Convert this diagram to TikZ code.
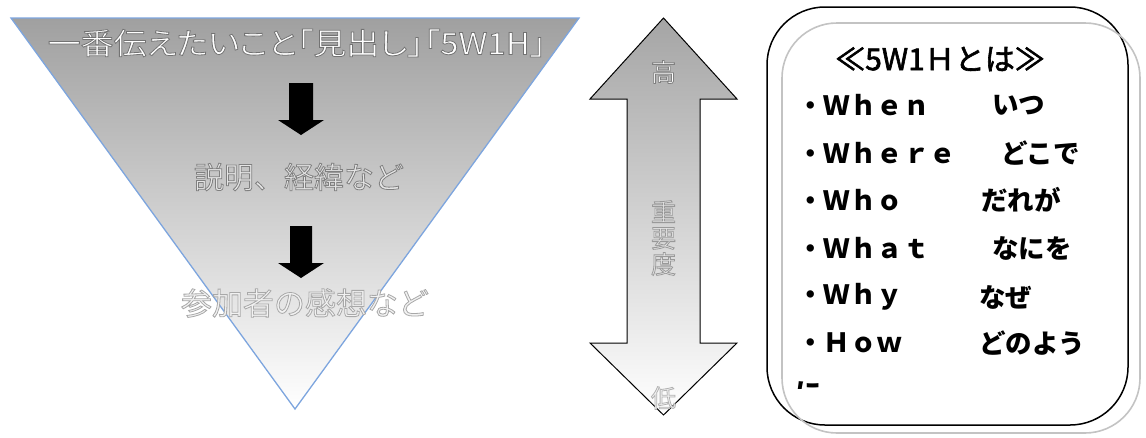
\documentclass[tikz,border=0pt]{standalone}
\usepackage{fontspec}
\newfontfamily\jp{Noto Sans CJK JP}
\newfontfamily\jpp{Noto Sans CJK JP}[RawFeature=+palt, FakeStretch=1.1]
\definecolor{tritop}{RGB}{160,160,160}
\definecolor{triedge}{RGB}{125,165,222}
\definecolor{boxgray}{RGB}{195,195,195}
\definecolor{arrtop}{RGB}{165,165,165}
\newcommand\outl[2]{\special{pdf:literal direct 2 Tr 0.8 w #1 RG}#2\special{pdf:literal direct 0 Tr}}
\newcommand\thick[1]{\special{pdf:literal direct 2 Tr 0.6 w 0 0 0 RG}#1\special{pdf:literal direct 0 Tr}}
\tikzset{
  lt/.style={inner sep=0pt, font=\jp\fontsize{#1}{#1}\selectfont},
  ltp/.style={inner sep=0pt, font=\jpp\fontsize{#1}{#1}\selectfont},
  item/.style={anchor=west, inner sep=0pt, font=\jp\bfseries\fontsize{26.5}{26.5}\selectfont},
  blockarrow/.style={fill=black},
  vline/.style={inner sep=0pt, align=center, font=\jp\fontsize{25}{26}\selectfont}
}
\begin{document}
\begin{tikzpicture}[x=1pt,y=-1pt]
\useasboundingbox (0,0) rectangle (1146,437);
% inverted triangle
\path[shade, top color=tritop, bottom color=white, draw=triedge, line width=1.3pt]
  (11,18) coordinate (tl) -- (579,18) coordinate (tr) -- (295,409) coordinate (ap) -- cycle;
% black block arrows
\fill[blockarrow] (289,83) -- (313,83) -- (313,120) -- (324,120) -- (301,135) -- (278,120) -- (289,120) -- cycle;
\fill[blockarrow] (290,226) -- (312,226) -- (312,263) -- (324,263) -- (301,278) -- (278,263) -- (290,263) -- cycle;
% texts in triangle
\node[ltp=30, text=white] (t1) at (297,43) {\outl{0.45 0.45 0.45}{一番伝えたいこと「見出し」「5W1H」}};
\node[lt=30, text=black!10] (t2) at (299,177) {\outl{0.5 0.5 0.5}{説明、経緯など}};
\node[lt=31, text=black!5] (t3) at (305,303) {\outl{0.66 0.66 0.66}{参加者の感想など}};
% double arrow
\path[shade, top color=arrtop, bottom color=white, draw=black, line width=1pt]
  (663.5,18) -- (737,99) -- (700,99) -- (700,343) -- (737,343) -- (663.5,415)
  -- (590,343) -- (627,343) -- (627,99) -- (590,99) -- cycle;
\node[lt=25, text=white] (hi) at (663.5,72) {\outl{0.5 0.5 0.5}{高}};
\node[vline, text=black!10] (imp) at (663.5,238) {\outl{0.6 0.6 0.6}{重}\\\outl{0.6 0.6 0.6}{要}\\\outl{0.6 0.6 0.6}{度}};
\node[lt=25, text=black!5] (lo) at (663.5,398) {\outl{0.7 0.7 0.7}{低}};
% right box
\draw[black, line width=1.5pt, rounded corners=58pt] (767,7) rectangle (1128,425);
\draw[boxgray, line width=1.6pt, rounded corners=55pt] (782,23) rectangle (1140,433);
\node[lt=30] (title) at (940,59) {\thick{≪5W1Ｈとは≫}};
\node[item] (a1) at (797,105) {・Ｗｈｅｎ};
\node[item] (b1) at (992,105) {いつ};
\node[item] (a2) at (797,153) {・Ｗｈｅｒｅ};
\node[item] (b2) at (1001,153) {どこで};
\node[item] (a3) at (797,200) {・Ｗｈｏ};
\node[item] (b3) at (981,200) {だれが};
\node[item] (a4) at (797,248) {・Ｗｈａｔ};
\node[item] (b4) at (992,248) {なにを};
\node[item] (a5) at (797,297) {・Ｗｈｙ};
\node[item] (b5) at (979,297) {なぜ};
\node[item] (a6) at (797,343) {・Ｈｏｗ};
\node[item] (b6) at (979,343) {どのよう};
\begin{scope}
  \clip (785,370) rectangle (840,388);
  \node[item] (b7) at (795,393) {に};
\end{scope}
\end{tikzpicture}
\end{document}
